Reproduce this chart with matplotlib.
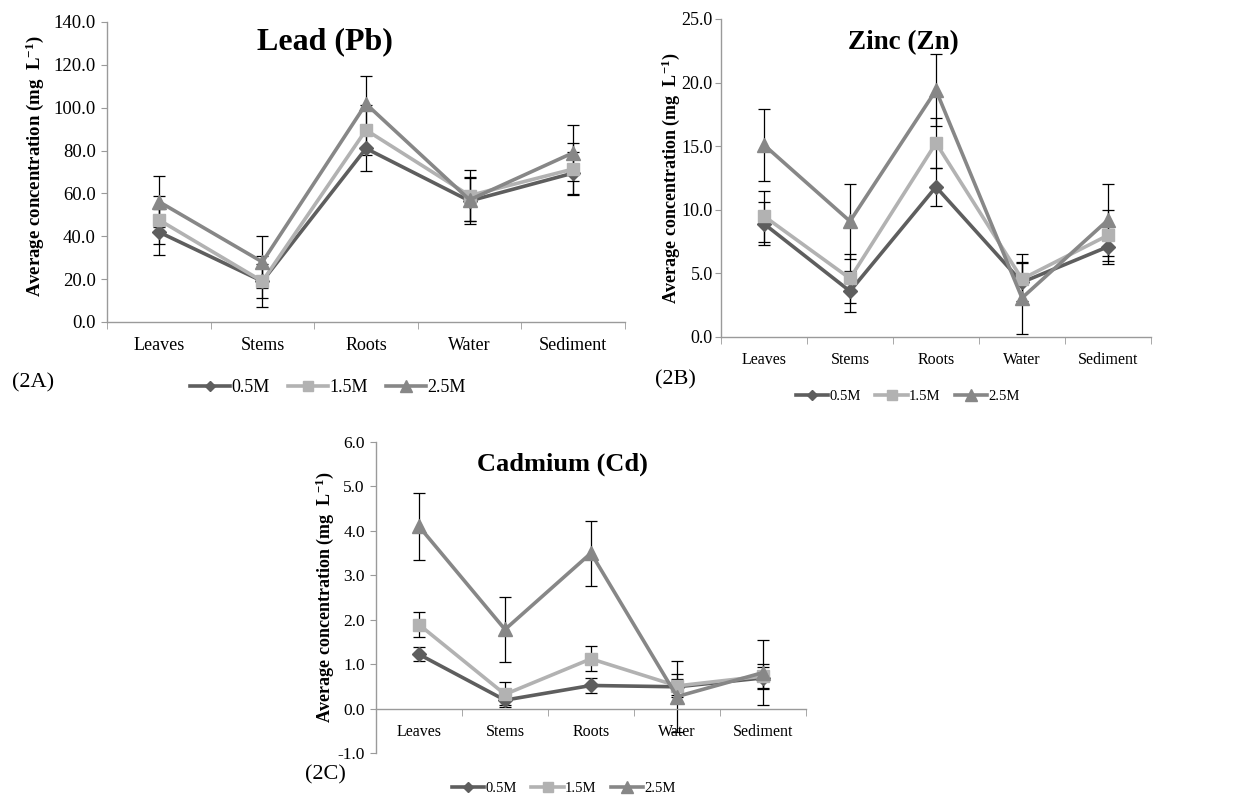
import numpy as np
import matplotlib
matplotlib.use("Agg")
import matplotlib.pyplot as plt

plt.rcParams['font.family'] = ['Liberation Serif', 'DejaVu Serif']
plt.rcParams['mathtext.fontset'] = 'custom'
plt.rcParams['mathtext.rm'] = 'Liberation Serif'
plt.rcParams['mathtext.bf'] = 'Liberation Serif:bold'
plt.rcParams['mathtext.default'] = 'regular'
plt.rcParams['axes.unicode_minus'] = False

categories = ['Leaves', 'Stems', 'Roots', 'Water', 'Sediment']
series_names = ['0.5M', '1.5M', '2.5M']

# Lead (Pb)
pb_05 = [42.0, 19.0, 81.0, 56.5, 69.5]
pb_15 = [47.7, 19.0, 89.6, 59.0, 71.4]
pb_25 = [56.2, 28.0, 101.8, 57.0, 79.0]
pb_05_err = [10.7, 8.0, 10.5, 11.0, 10.0]
pb_15_err = [11.2, 11.8, 11.7, 11.7, 12.0]
pb_25_err = [12.1, 12.3, 13.0, 10.0, 13.0]

# Zinc (Zn)
zn_05 = [8.9, 3.6, 11.8, 4.3, 7.1]
zn_15 = [9.5, 4.6, 15.25, 4.56, 8.0]
zn_25 = [15.1, 9.1, 19.4, 3.07, 9.2]
zn_05_err = [1.7, 1.6, 1.5, 1.5, 1.4]
zn_15_err = [2.0, 1.9, 2.0, 1.95, 2.0]
zn_25_err = [2.85, 2.95, 2.85, 2.85, 2.85]

# Cadmium (Cd)
cd_05 = [1.22, 0.19, 0.52, 0.49, 0.69]
cd_15 = [1.89, 0.32, 1.12, 0.51, 0.73]
cd_25 = [4.10, 1.78, 3.50, 0.27, 0.81]
cd_05_err = [0.16, 0.10, 0.17, 0.18, 0.25]
cd_15_err = [0.28, 0.28, 0.28, 0.26, 0.27]
cd_25_err = [0.75, 0.74, 0.73, 0.80, 0.74]

colors = ['#5e5e5e', '#b2b2b2', '#878787']
markers = ['D', 's', '^']
msizes = [7, 9, 10]
axis_col = '#9a9a9a'


def panel(ax, data, errs, title, ylim, ystep, xfs, yfs, title_fs, title_x,
          lab_fs, label_xy, ytick_pad):
    x = np.arange(len(categories))
    for i in range(3):
        ax.errorbar(x, data[i], yerr=errs[i], fmt='none', ecolor='black',
                    elinewidth=0.9, capsize=4.5, capthick=0.9, zorder=2)
    for i in range(3):
        ax.plot(x, data[i], color=colors[i], marker=markers[i],
                markersize=msizes[i], linewidth=2.6, label=series_names[i],
                zorder=3 + i)
    ax.set_xlim(-0.5, len(categories) - 0.5)
    ax.set_ylim(*ylim)
    yt = np.arange(ylim[0], ylim[1] + ystep / 2, ystep)
    ax.set_yticks(yt)
    ax.set_yticklabels(['%.1f' % v for v in yt])
    ax.set_xticks(x)
    ax.set_xticklabels(categories)
    ax.set_xticks(np.arange(-0.5, len(categories)), minor=True)
    ax.tick_params(axis='x', which='major', length=0, pad=11, labelsize=xfs)
    ax.tick_params(axis='x', which='minor', length=5, color=axis_col,
                   direction='out')
    ax.tick_params(axis='y', length=4, color=axis_col, direction='out',
                   pad=ytick_pad, labelsize=yfs)
    for s in ['top', 'right']:
        ax.spines[s].set_visible(False)
    for s in ['left', 'bottom']:
        ax.spines[s].set_color(axis_col)
        ax.spines[s].set_linewidth(1.0)
    if ylim[0] < 0:
        ax.spines['bottom'].set_position(('data', 0))
    ax.set_title(title, fontsize=title_fs, fontweight='bold', x=title_x,
                 y=0.88)
    ax.set_ylabel(r'Average concentration (mg  L$^{-1}$)', fontsize=lab_fs,
                  fontweight='bold')
    ax.yaxis.set_label_coords(*label_xy)


W, H = 1237, 798
fig = plt.figure(figsize=(W / 100, H / 100), dpi=100)


def box(l, r, t, b):
    return [l / W, 1 - b / H, (r - l) / W, (b - t) / H]


ax1 = fig.add_axes(box(107, 625, 22, 322))
ax2 = fig.add_axes(box(721, 1151, 19, 337))
ax3 = fig.add_axes(box(376, 806, 442, 753))

panel(ax1, [pb_05, pb_15, pb_25], [pb_05_err, pb_15_err, pb_25_err],
      'Lead (Pb)', (0, 140), 20, 13, 13.5, 23, 0.42, 13.5, (-0.118, 0.52), 4)
panel(ax2, [zn_05, zn_15, zn_25], [zn_05_err, zn_15_err, zn_25_err],
      'Zinc (Zn)', (0, 25), 5, 11.5, 13, 19.5, 0.425, 13, (-0.09, 0.5), 2)
panel(ax3, [cd_05, cd_15, cd_25], [cd_05_err, cd_15_err, cd_25_err],
      'Cadmium (Cd)', (-1, 6), 1, 11.5, 12.5, 19, 0.433, 13, (-0.092, 0.5), 4)

for ax, (cx, cy), fs in [(ax1, (328, 388), 13), (ax2, (908, 396), 10.5),
                         (ax3, (564, 788), 10.5)]:
    ax.legend(loc='center', bbox_to_anchor=(cx / W, 1 - cy / H),
              bbox_transform=fig.transFigure, ncol=3, frameon=False,
              fontsize=fs, handlelength=2.2, handletextpad=0.1,
              columnspacing=1.0, markerscale=0.8)

fig.text(12 / W, 1 - 383 / H, '(2A)', fontsize=16, va='center', ha='left')
fig.text(655 / W, 1 - 380 / H, '(2B)', fontsize=16, va='center', ha='left')
fig.text(305 / W, 1 - 775 / H, '(2C)', fontsize=16, va='center', ha='left')

fig.savefig('out.png', dpi=100)
